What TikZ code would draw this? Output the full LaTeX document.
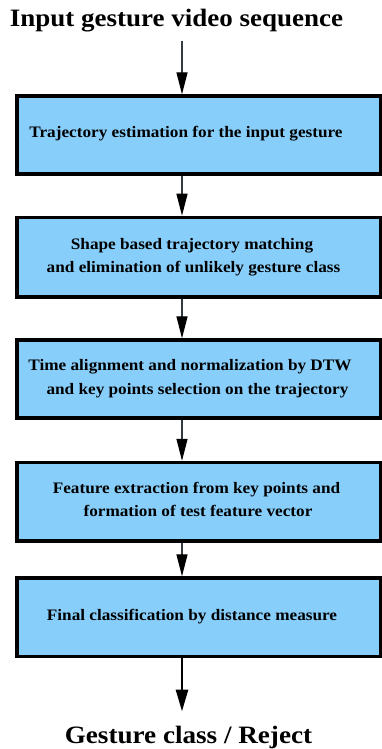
\documentclass[tikz,border=0pt]{standalone}
\usepackage{fontspec}
\setmainfont{Liberation Serif}[BoldFont={Liberation Serif Bold}]
\newfontfamily\timesbold{Liberation Serif Bold}
\usetikzlibrary{arrows.meta}
\definecolor{boxfill}{RGB}{135,206,250}
\definecolor{conn}{RGB}{50,58,66}
\newcommand{\hstretch}[2]{\scalebox{#1}[1]{#2}}
\tikzset{
  stepbox/.style={draw=black, line width=3.5pt, fill=boxfill},
  boxtext/.style={anchor=base, inner sep=0pt, font=\timesbold\fontsize{16}{19}\selectfont},
  bigtext/.style={anchor=base, inner sep=0pt, font=\timesbold\fontsize{25}{30}\selectfont},
  conarrow/.style={draw=conn, line width=1.3pt, -{Triangle[length=22pt,width=11pt,black]}},
  finarrow/.style={draw=black, line width=2.8pt, -{Triangle[length=22pt,width=12pt,black]}},
}
\begin{document}
\begin{tikzpicture}[x=1pt,y=-1pt]
\useasboundingbox (0,0) rectangle (382,749);
% boxes
\path[stepbox] (17,96) rectangle (381,174);
\path[stepbox] (17,217.5) rectangle (381,297);
\path[stepbox] (17,340) rectangle (381,418);
\path[stepbox] (17,462.5) rectangle (381,541);
\path[stepbox] (17,578) rectangle (381,656.5);
% anchor points on boxes
\coordinate (b1t) at (182,94.3);
\coordinate (b1b) at (182,175.7);
\coordinate (b2t) at (182,215.7);
\coordinate (b2b) at (182,298.7);
\coordinate (b3t) at (182,338.3);
\coordinate (b3b) at (182,419.7);
\coordinate (b4t) at (182,460.8);
\coordinate (b4b) at (182,542.7);
\coordinate (b5t) at (182,576.3);
\coordinate (b5b) at (182,658.2);
\coordinate (topstart) at (182,40.7);
\coordinate (botend) at (182,711.5);
% texts
\node[bigtext] (title) at (176.5,27) {\hstretch{1.08}{Input gesture video sequence}};
\node[boxtext] (t1) at (186,137.5) {\hstretch{1.075}{Trajectory estimation for the input gesture}};
\node[boxtext] (t2a) at (192,249) {\hstretch{1.075}{Shape based trajectory matching}};
\node[boxtext] (t2b) at (193.5,272.7) {\hstretch{1.075}{and elimination of unlikely gesture class}};
\node[boxtext] (t3a) at (190,370) {\hstretch{1.075}{Time alignment and normalization by DTW}};
\node[boxtext] (t3b) at (197.5,394) {\hstretch{1.075}{and key points selection on the trajectory}};
\node[boxtext] (t4a) at (196.5,493) {\hstretch{1.075}{Feature extraction from key points and}};
\node[boxtext] (t4b) at (198,516.7) {\hstretch{1.075}{formation of test feature vector}};
\node[boxtext] (t5) at (192,620.7) {\hstretch{1.075}{Final classification by distance measure}};
\node[bigtext] (out) at (188.5,743.3) {\hstretch{1.085}{Gesture class / Reject}};
% connectors
\draw[conarrow] (topstart) -- (b1t);
\draw[conarrow] (b1b) -- (b2t);
\draw[conarrow] (b2b) -- (b3t);
\draw[conarrow] (b3b) -- (b4t);
\draw[conarrow] (b4b) -- (b5t);
\draw[finarrow] (b5b) -- (botend);
\end{tikzpicture}
\end{document}
